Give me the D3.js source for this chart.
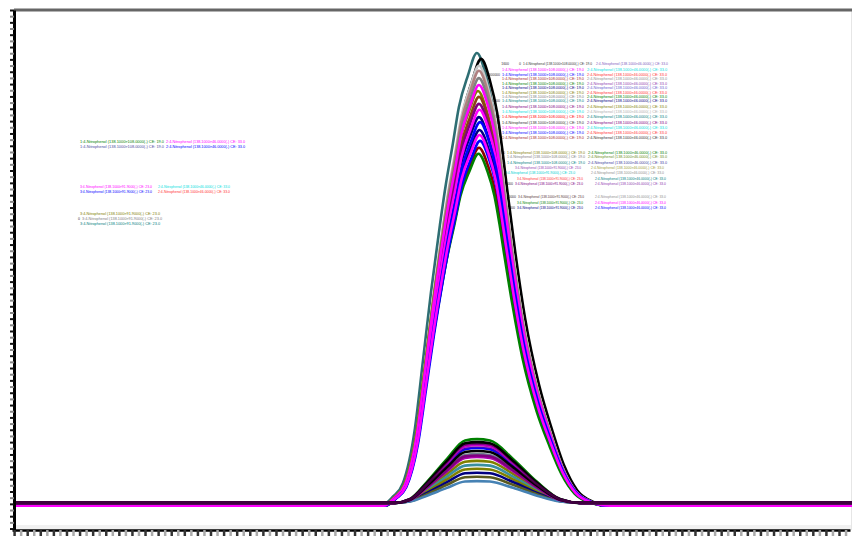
<!DOCTYPE html>
<html><head><meta charset="utf-8">
<script src="https://cdn.jsdelivr.net/npm/d3@7"></script>
<style>
html,body{margin:0;padding:0;background:#fff;}
svg{display:block;}
text{font-family:"Liberation Sans",Arial,sans-serif;}
</style></head><body>
<svg id="chart" width="852" height="536"></svg>
<script>
// ---------------- DATA ----------------
const timeDomain = [0, 8];               // retention time (min)
const intensityDomain = [-55000, 1000000];
const xTickStep = 0.0625;
const yTickStep = 12500;

// peak shape of the main (tall) peaks, relative intensity vs time
const largeProfileTime  = [-0.2, 3.542, 3.656, 3.752, 3.866, 3.943, 4.019, 4.105, 4.162, 4.229, 4.286, 4.372, 4.458, 4.544, 4.611, 4.659, 4.706, 4.783, 4.878, 5.012, 5.136, 5.251, 5.375, 5.518, 5.709, 8.2];
const largeProfileShape = [0, 0, 0.02, 0.05, 0.17, 0.32, 0.47, 0.62, 0.71, 0.80, 0.88, 0.95, 1.00, 0.95, 0.88, 0.80, 0.71, 0.57, 0.42, 0.27, 0.17, 0.09, 0.035, 0.01, 0, 0];

// peak shape of the small peaks
const smallProfileTime  = [-0.2, 3.656, 3.800, 3.962, 4.153, 4.325, 4.439, 4.563, 4.783, 5.012, 5.232, 5.422, 8.2];
const smallProfileShape = [0, 0, 0.06, 0.33, 0.69, 0.98, 1.00, 0.98, 0.69, 0.33, 0.06, 0, 0];

// tall traces (drawing order)
const largeColors  = ["#2e6e73", "#000000", "#c8c8c8", "#b08080", "#808080", "#808000", "#8b4513", "#000080", "#000080", "#8b0000", "#008000", "#800080", "#ff00ff", "#ff00ff", "#0000ff", "#0000ff", "#ff00ff"];
const largeHeights = [917000, 905000, 891000, 881000, 866000, 840000, 828000, 787000, 761000, 725000, 713000, 814000, 852000, 802000, 777000, 739000, 751000];
const largeShifts  = [-0.02, 0.02, 0, 0, 0, -0.01, 0, 0, 0.005, 0, -0.005, 0, 0, 0.005, 0.01, 0.01, 0.005];
const largeBaseline = -4000;

// small traces (drawing order)
const smallColors  = ["#008000", "#0000ff", "#708090", "#808000", "#3a8fa0", "#808000", "#000080", "#5a5a20", "#4682b4", "#ff00ff", "#800080", "#b000b0", "#800080", "#000000", "#000000", "#800080"];
const smallHeights = [129000, 111000, 99000, 85000, 77000, 69000, 61000, 53000, 44000, 117000, 120000, 93000, 96000, 123000, 105000, 114000];
const smallBaseline = 2000;

// legend / annotation texts
const T19 = "1:4-Nitrophenol (138.1000>108.0000(-) CE: 19.0";
const T33 = "2:4-Nitrophenol (138.1000>46.0000(-) CE: 33.0";
const T23 = "3:4-Nitrophenol (138.1000>91.9000(-) CE: 23.0";
const labelTexts = {T19, T33, T23};

// annotation rows: [text1, color1, text2, color2, number]
const rightRowsContent = [
  ["T19","#333333","T33","#8060c0","1600"],
  ["T19","#ff00ff","T33","#00e0e0",""],
  ["T19","#0000ff","T33","#ff3030","1000000"],
  ["T19","#a52a2a","T33","#909090",""],
  ["T19","#008000","T33","#9040b0",""],
  ["T19","#000080","T33","#6a5acd",""],
  ["T19","#808000","T33","#ff3030",""],
  ["T19","#808080","T33","#008000",""],
  ["T19","#008080","T33","#000080","1000000"],
  ["T19","#800080","T33","#808000",""],
  ["T19","#00e0e0","T33","#b0b0b0",""],
  ["T19","#ff0000","T33","#008080","2000000"],
  ["T19","#333333","T33","#800080","1000000"],
  ["T19","#ff00ff","T33","#00e0e0",""],
  ["T19","#0000ff","T33","#ff3030","2000000"],
  ["T19","#a52a2a","T33","#333333",""],
  ["T19","#808000","T33","#008000","2000000"],
  ["T19","#808080","T33","#6b8e23",""],
  ["T19","#008080","T33","#4040a0","2000000"],
  ["T23","#9040b0","T33","#a0a040",""],
  ["T23","#00d0d0","T33","#909090",""],
  ["T23","#ff3030","T33","#008080",""],
  ["T23","#800080","T33","#9040b0","2000000"],
  ["T23","#553333","T33","#909090","2000000"],
  ["T23","#008000","T33","#ff00ff",""],
  ["T23","#000080","T33","#0000ff","1000000"]
];
const leftRowsContent = [
  ["T19","#008000","T33","#ff00ff",""],
  ["T19","#4a4aa0","T33","#0000ff",""],
  ["T23","#ff00ff","T33","#00e0e0",""],
  ["T23","#0000ff","T33","#ff3030",""],
  ["T23","#808000","","",""],
  ["T23","#808080","","","0"],
  ["T23","#008080","","",""]
];

// ---------------- LAYOUT ----------------
// [y, x1, w1, x2, w2]
const rightRowsLayout = [
  [64,523,69,596,72],[70,502,82,587,80],[75,502,82,587,80],[79,502,82,587,80],[84,502,82,587,80],
  [88,502,82,587,80],[93,502,82,587,80],[97,502,82,587,80],[101,502,82,587,80],[107,502,82,587,80],
  [112,502,82,587,80],[117,502,82,587,80],[123,502,82,587,80],[128,502,82,587,80],[133,502,82,587,80],
  [138,502,82,587,80],[153,507,78,588,79],[157,507,78,588,79],[163,507,78,588,79],[168,515,66,591,73],
  [173,505,70,591,73],[179,517,66,595,71],[184,515,68,595,71],[197,518,66,595,71],[203,517,66,595,71],
  [208,517,66,595,71]
];
const leftRowsLayout = [
  [142,80,84,166,79],[147,80,84,166,79],[187,80,72,158,72],[192,80,72,158,72],
  [214,80,80,0,0],[219,82,80,0,0],[224,80,80,0,0]
];

const W = 852, H = 536;
const plot = {left: 14, right: 852, top: 10, bottom: 530};

const svg = d3.select("#chart");
const x = d3.scaleLinear().domain(timeDomain).range([12, 850]);
const y = d3.scaleLinear().domain(intensityDomain).range([531, 10]);

svg.append("defs").append("clipPath").attr("id","clip")
  .append("rect").attr("x", plot.left).attr("y", plot.top).attr("width", plot.right - plot.left).attr("height", plot.bottom - plot.top);

// light band above bottom axis
svg.append("rect").attr("x", plot.left).attr("y", 525).attr("width", plot.right - plot.left).attr("height", 4).attr("fill", "#f1f1f1");
// faint right border
svg.append("line").attr("x1", 851.5).attr("x2", 851.5).attr("y1", plot.top).attr("y2", plot.bottom).attr("stroke", "#e6e6e6").attr("stroke-width", 1);

// annotation text (drawn beneath the traces)
const fs = 3.5;
const ann = svg.append("g").attr("font-size", fs);
function drawRows(content, layout) {
  content.forEach((r, i) => {
    const [yy, x1, w1, x2, w2] = layout[i];
    ann.append("text").attr("x", x1).attr("y", yy).attr("dominant-baseline", "middle")
      .attr("fill", r[1]).attr("textLength", w1).attr("lengthAdjust", "spacingAndGlyphs").text(labelTexts[r[0]]);
    if (r[2]) {
      ann.append("text").attr("x", x2).attr("y", yy).attr("dominant-baseline", "middle")
        .attr("fill", r[3]).attr("textLength", w2).attr("lengthAdjust", "spacingAndGlyphs").text(labelTexts[r[2]]);
    }
    if (r[4]) {
      ann.append("text").attr("x", x1 - 2).attr("y", yy).attr("dominant-baseline", "middle")
        .attr("text-anchor", "end").attr("fill", "#333").text(r[4] === "1600" ? "0" : r[4]);
      if (r[4] === "1600") {
        ann.append("text").attr("x", x1 - 14).attr("y", yy).attr("dominant-baseline", "middle")
          .attr("text-anchor", "end").attr("fill", "#333").text("1600");
      }
    }
  });
}
drawRows(rightRowsContent, rightRowsLayout);
drawRows(leftRowsContent, leftRowsLayout);

// traces
const line = d3.line().x(d => x(d[0])).y(d => y(d[1])).curve(d3.curveMonotoneX);
const traces = svg.append("g").attr("clip-path", "url(#clip)")
  .attr("fill", "none").attr("stroke-linejoin", "round").attr("stroke-linecap", "round");

largeHeights.forEach((h, i) => {
  const pts = largeProfileTime.map((t, k) => [t + largeShifts[i], largeBaseline + h * largeProfileShape[k]]);
  traces.append("path").attr("d", line(pts)).attr("stroke", largeColors[i]).attr("stroke-width", 2.6);
});
smallHeights.forEach((h, i) => {
  const pts = smallProfileTime.map((t, k) => [t, smallBaseline + h * smallProfileShape[k]]);
  const last = i === smallHeights.length - 1;
  traces.append("path").attr("d", line(pts)).attr("stroke", smallColors[i])
    .attr("stroke-width", 2.6).attr("stroke-opacity", last ? 0.5 : 1);
});

// top border
svg.append("line").attr("x1", plot.left).attr("x2", W).attr("y1", 10).attr("y2", 10)
  .attr("stroke", "#666").attr("stroke-width", 3);

// left axis
const yAxis = d3.axisLeft(y).tickValues(d3.range(intensityDomain[0] + 5000, intensityDomain[1] + 1, yTickStep))
  .tickSize(4).tickSizeOuter(0).tickFormat("");
const gy = svg.append("g").attr("transform", `translate(${plot.left},0)`).call(yAxis);
gy.select(".domain").attr("stroke", "#000").attr("stroke-width", 3);
gy.selectAll(".tick line").attr("stroke-width", 2).attr("stroke", (d, i) => i % 2 ? "#888" : "#111");

// bottom axis
const xAxis = d3.axisBottom(x).tickValues(d3.range(timeDomain[0] + 0.02, timeDomain[1] + 0.0001, xTickStep))
  .tickSize(6).tickSizeOuter(0).tickFormat("");
const gx = svg.append("g").attr("transform", `translate(0,${plot.bottom})`).call(xAxis);
gx.select(".domain").attr("stroke", "#000").attr("stroke-width", 2.5);
gx.selectAll(".tick line").attr("stroke-width", 2.5).attr("stroke", (d, i) => i % 2 ? "#aaa" : "#333");
</script>
</body></html>
